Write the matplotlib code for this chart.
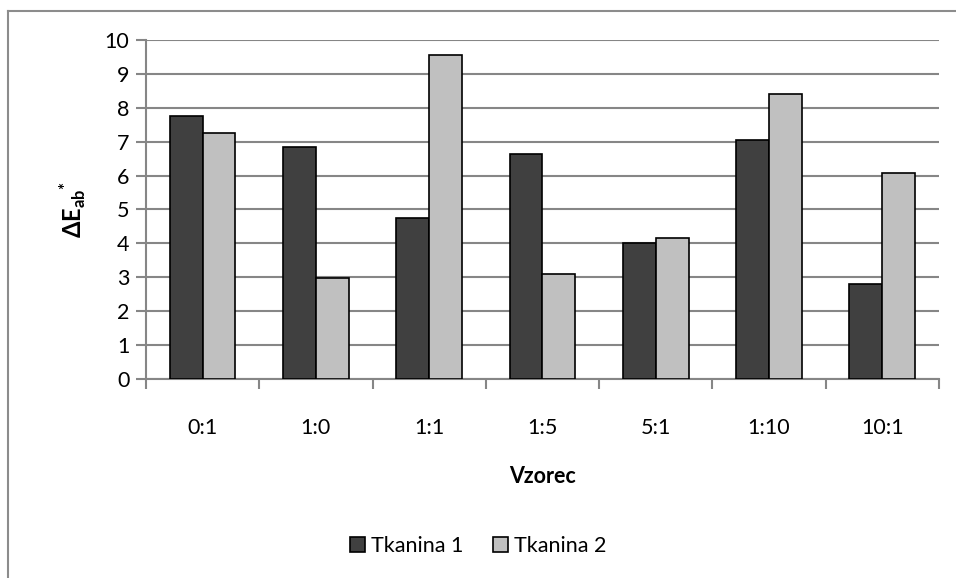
import numpy as np
import matplotlib.pyplot as plt
from matplotlib.lines import Line2D

plt.rcParams['font.family'] = ['Lato', 'DejaVu Sans']
plt.rcParams['mathtext.fontset'] = 'custom'
plt.rcParams['mathtext.rm'] = 'Lato'
plt.rcParams['mathtext.bf'] = 'Lato:bold'

# Colour difference per sample ratio for the two fabrics
samples = ['0:1', '1:0', '1:1', '1:5', '5:1', '1:10', '10:1']
tkanina1 = [7.75, 6.85, 4.75, 6.65, 4.0, 7.05, 2.8]
tkanina2 = [7.25, 2.97, 9.55, 3.1, 4.15, 8.4, 6.08]
series_names = ['Tkanina 1', 'Tkanina 2']

grid_col = '#868686'
fs = 15.5
fig = plt.figure(figsize=(9.56, 5.78), dpi=100)
ax = fig.add_axes([0.1527, 0.3443, 0.8295, 0.5865])

x = np.arange(len(samples))
w = 0.29
ax.bar(x - w / 2, tkanina1, w, color='#404040', edgecolor='black', linewidth=1.2,
       label=series_names[0], zorder=3)
ax.bar(x + w / 2, tkanina2, w, color='#c0c0c0', edgecolor='black', linewidth=1.2,
       label=series_names[1], zorder=3)

ax.set_xlim(-0.5, len(samples) - 0.5)
ax.set_ylim(0, 10)
ax.set_yticks(range(0, 11))
ax.yaxis.grid(True, color=grid_col, linewidth=1.5)
ax.set_axisbelow(True)

# category boundary ticks, labels in the middle
ax.set_xticks(np.arange(-0.5, len(samples)), minor=False)
ax.set_xticklabels([])
ax.set_xticks(x, minor=True)
ax.set_xticklabels(samples, minor=True)
ax.tick_params(axis='x', which='major', length=7, width=1.5, color=grid_col)
ax.tick_params(axis='x', which='minor', length=0, pad=28, labelsize=fs)
ax.tick_params(axis='y', length=7, width=1.5, color=grid_col, labelsize=fs, pad=5)

for s in ['top', 'right']:
    ax.spines[s].set_visible(False)
for s in ['left', 'bottom']:
    ax.spines[s].set_color(grid_col)
    ax.spines[s].set_linewidth(1.5)

ax.set_xlabel('Vzorec', fontsize=fs, fontweight='bold', labelpad=20)
ax.set_ylabel(r'$\mathbf{\Delta E_{ab}{}^{*}}$', fontsize=17, labelpad=12)

fig.legend(loc='center', bbox_to_anchor=(0.5, 0.055), ncol=2, frameon=False,
           fontsize=fs, handlelength=0.7, handleheight=0.7, handletextpad=0.25,
           columnspacing=1.4)

# chart area border
fig.add_artist(Line2D([8 / 956, 8 / 956], [0, 1 - 11 / 578], color='#8c8c8c',
                      linewidth=1.5, transform=fig.transFigure))
fig.add_artist(Line2D([8 / 956, 1], [1 - 11 / 578, 1 - 11 / 578], color='#8c8c8c',
                      linewidth=1.5, transform=fig.transFigure))

fig.savefig('out.png', dpi=100)
